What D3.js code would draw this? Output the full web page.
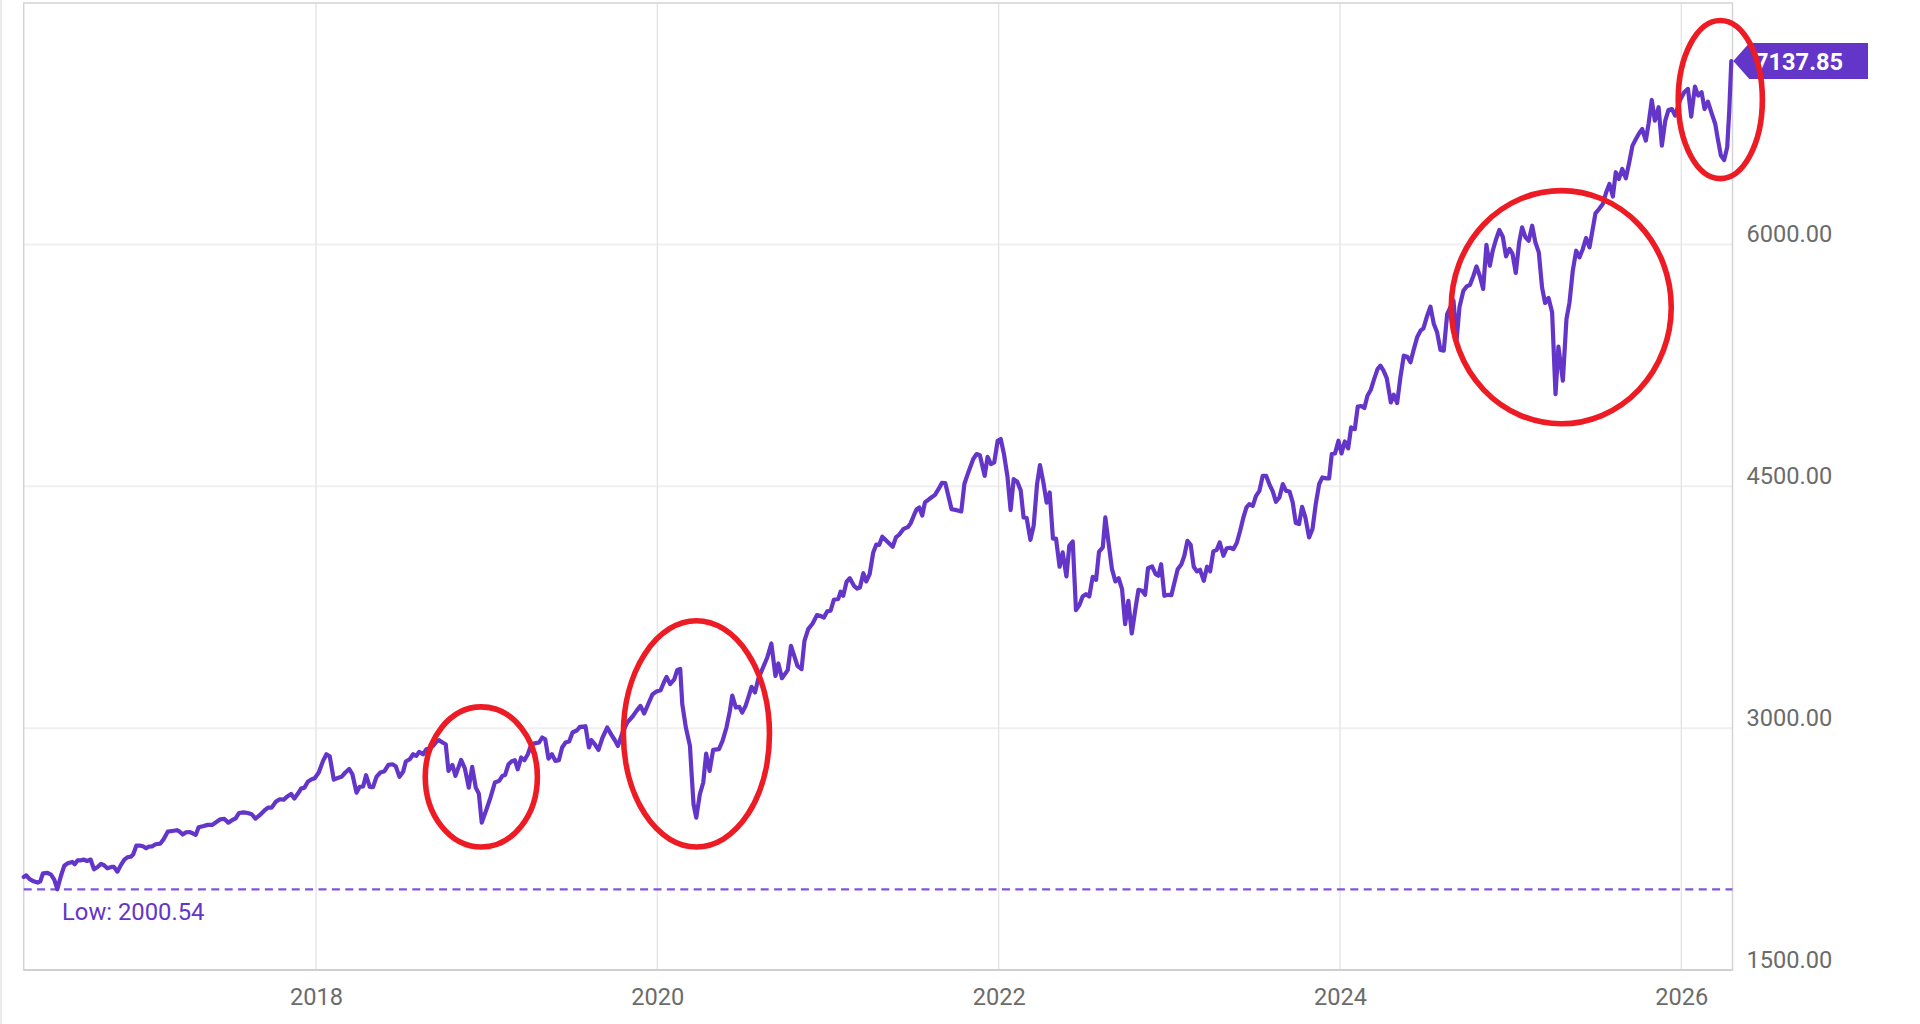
<!DOCTYPE html>
<html>
<head>
<meta charset="utf-8">
<script src="https://cdn.jsdelivr.net/npm/d3@7"></script>
<style>
html,body{margin:0;padding:0;background:#fff;overflow:hidden}
svg{display:block;font-family:Roboto,sans-serif}
</style>
</head>
<body>
<svg id="chart" width="1920" height="1024"></svg>
<script>
const years = [
2016.287,2016.302,2016.322,2016.345,2016.369,2016.384,2016.400,2016.427,2016.447,2016.466,
2016.484,2016.505,2016.525,2016.545,2016.572,2016.586,2016.603,2016.623,2016.638,2016.658,
2016.679,2016.699,2016.720,2016.740,2016.758,2016.777,2016.801,2016.816,2016.836,2016.857,
2016.877,2016.894,2016.916,2016.929,2016.947,2016.971,2016.986,2017.004,2017.019,2017.039,
2017.060,2017.088,2017.107,2017.131,2017.156,2017.185,2017.201,2017.219,2017.238,2017.258,
2017.277,2017.295,2017.312,2017.342,2017.365,2017.391,2017.416,2017.439,2017.463,2017.486,
2017.508,2017.529,2017.549,2017.576,2017.600,2017.623,2017.645,2017.670,2017.699,2017.719,
2017.740,2017.764,2017.787,2017.811,2017.834,2017.854,2017.873,2017.895,2017.912,2017.932,
2017.953,2017.975,2017.992,2018.016,2018.041,2018.061,2018.080,2018.104,2018.123,2018.149,
2018.172,2018.194,2018.213,2018.237,2018.256,2018.276,2018.293,2018.315,2018.334,2018.354,
2018.377,2018.401,2018.424,2018.448,2018.467,2018.489,2018.510,2018.526,2018.549,2018.569,
2018.588,2018.604,2018.627,2018.647,2018.667,2018.686,2018.706,2018.721,2018.741,2018.760,
2018.776,2018.799,2018.817,2018.850,2018.872,2018.895,2018.915,2018.936,2018.954,2018.971,
2018.999,2019.022,2019.048,2019.073,2019.092,2019.108,2019.128,2019.147,2019.165,2019.182,
2019.202,2019.221,2019.241,2019.262,2019.288,2019.307,2019.325,2019.343,2019.362,2019.382,
2019.403,2019.423,2019.442,2019.462,2019.483,2019.503,2019.530,2019.546,2019.579,2019.599,
2019.614,2019.634,2019.655,2019.679,2019.706,2019.731,2019.751,2019.769,2019.796,2019.823,
2019.855,2019.878,2019.901,2019.923,2019.946,2019.972,2019.995,2020.019,2020.038,2020.054,
2020.075,2020.099,2020.116,2020.134,2020.146,2020.167,2020.191,2020.202,2020.212,2020.228,
2020.249,2020.269,2020.286,2020.306,2020.327,2020.361,2020.382,2020.405,2020.425,2020.439,
2020.460,2020.480,2020.497,2020.517,2020.536,2020.552,2020.572,2020.591,2020.644,2020.668,
2020.692,2020.709,2020.730,2020.764,2020.783,2020.821,2020.845,2020.862,2020.884,2020.910,
2020.935,2020.958,2020.976,2020.995,2021.015,2021.034,2021.060,2021.074,2021.089,2021.109,
2021.128,2021.152,2021.171,2021.187,2021.207,2021.224,2021.244,2021.265,2021.283,2021.300,
2021.318,2021.353,2021.379,2021.398,2021.418,2021.441,2021.470,2021.484,2021.506,2021.519,
2021.535,2021.552,2021.568,2021.593,2021.627,2021.650,2021.668,2021.687,2021.705,2021.724,
2021.754,2021.781,2021.799,2021.822,2021.851,2021.871,2021.890,2021.918,2021.935,2021.955,
2021.974,2021.994,2022.012,2022.031,2022.051,2022.070,2022.088,2022.109,2022.129,2022.146,
2022.164,2022.186,2022.205,2022.225,2022.242,2022.262,2022.281,2022.299,2022.318,2022.336,
2022.357,2022.375,2022.397,2022.414,2022.434,2022.453,2022.473,2022.492,2022.512,2022.531,
2022.551,2022.571,2022.588,2022.610,2022.625,2022.645,2022.664,2022.684,2022.703,2022.723,
2022.741,2022.760,2022.780,2022.801,2022.819,2022.840,2022.858,2022.875,2022.899,2022.920,
2022.936,2022.952,2022.971,2022.993,2023.012,2023.030,2023.049,2023.071,2023.088,2023.106,
2023.125,2023.143,2023.162,2023.180,2023.202,2023.221,2023.239,2023.258,2023.278,2023.295,
2023.317,2023.336,2023.356,2023.375,2023.395,2023.415,2023.434,2023.452,2023.469,2023.489,
2023.508,2023.528,2023.547,2023.567,2023.586,2023.606,2023.625,2023.645,2023.665,2023.684,
2023.704,2023.723,2023.741,2023.760,2023.778,2023.797,2023.819,2023.839,2023.858,2023.878,
2023.897,2023.919,2023.936,2023.952,2023.971,2023.991,2024.009,2024.028,2024.048,2024.065,
2024.087,2024.104,2024.124,2024.143,2024.161,2024.181,2024.200,2024.220,2024.237,2024.255,
2024.274,2024.298,2024.315,2024.335,2024.354,2024.374,2024.394,2024.413,2024.433,2024.452,
2024.472,2024.489,2024.511,2024.530,2024.550,2024.569,2024.589,2024.608,2024.628,2024.665,
2024.684,2024.700,2024.723,2024.743,2024.762,2024.782,2024.800,2024.819,2024.839,2024.858,
2024.878,2024.895,2024.915,2024.934,2024.954,2024.973,2024.993,2025.011,2025.030,2025.050,
2025.067,2025.087,2025.106,2025.126,2025.145,2025.165,2025.184,2025.202,2025.222,2025.243,
2025.263,2025.280,2025.306,2025.327,2025.345,2025.364,2025.384,2025.403,2025.423,2025.442,
2025.462,2025.481,2025.497,2025.518,2025.540,2025.560,2025.579,2025.599,2025.616,2025.634,
2025.654,2025.675,2025.695,2025.714,2025.734,2025.753,2025.771,2025.792,2025.808,2025.827,
2025.845,2025.867,2025.886,2025.906,2025.925,2025.945,2025.964,2025.993,2026.017,2026.039,
2026.058,2026.080,2026.099,2026.119,2026.136,2026.156,2026.179,2026.199,2026.214,2026.232,
2026.251,2026.269,2026.281,2026.293
];
const closes = [
2077,2087,2063,2050,2042,2050,2100,2102,2092,2061,
2001,2083,2147,2162,2170,2156,2180,2180,2185,2176,
2185,2125,2139,2158,2150,2131,2139,2139,2110,2152,
2185,2199,2203,2218,2271,2271,2267,2255,2265,2267,
2280,2284,2311,2358,2362,2367,2358,2340,2354,2356,
2348,2338,2385,2393,2400,2400,2418,2435,2437,2414,
2429,2441,2474,2478,2474,2466,2439,2460,2491,2507,
2507,2543,2559,2557,2578,2592,2563,2596,2625,2631,
2669,2683,2689,2725,2797,2838,2826,2681,2689,2698,
2725,2747,2714,2600,2636,2638,2708,2636,2634,2698,
2725,2733,2772,2776,2764,2698,2729,2793,2807,2838,
2828,2853,2838,2869,2876,2890,2917,2925,2911,2900,
2735,2772,2704,2803,2751,2631,2760,2631,2594,2414,
2497,2569,2663,2673,2704,2710,2776,2795,2801,2745,
2818,2801,2838,2900,2907,2911,2942,2931,2811,2838,
2797,2801,2880,2911,2917,2973,2987,3008,3012,2880,
2925,2900,2865,2942,3004,2958,2925,2890,2973,3035,
3072,3107,3138,3091,3148,3211,3227,3235,3283,3318,
3273,3302,3359,3368,3149,3004,2890,2694,2528,2445,
2590,2663,2842,2735,2865,2870,2921,3004,3107,3202,
3128,3132,3097,3138,3200,3256,3221,3304,3438,3525,
3324,3401,3310,3360,3510,3386,3366,3541,3614,3649,
3701,3695,3686,3724,3728,3796,3802,3846,3821,3908,
3930,3883,3866,3872,3961,3910,3955,4090,4139,4137,
4187,4152,4125,4183,4201,4234,4249,4270,4327,4356,
4369,4319,4400,4421,4447,4487,4522,4520,4441,4358,
4352,4344,4514,4586,4669,4700,4693,4565,4683,4638,
4648,4782,4793,4700,4565,4352,4545,4528,4476,4307,
4303,4168,4255,4514,4631,4524,4398,4462,4176,4176,
4001,4090,3941,4131,4158,3732,3763,3817,3831,3817,
3939,3920,4094,4121,4307,4141,3986,3910,3930,3862,
3645,3790,3587,3738,3858,3852,3827,3992,4003,3955,
3945,4017,3821,3827,3825,3903,3986,4017,4069,4162,
4137,4001,3972,3982,3914,4001,3972,4096,4106,4152,
4069,4116,4119,4110,4148,4224,4307,4369,4390,4379,
4441,4472,4565,4565,4514,4468,4404,4431,4514,4472,
4468,4400,4272,4266,4373,4307,4183,4235,4390,4514,
4555,4549,4549,4700,4704,4783,4704,4778,4735,4865,
4855,4994,4998,4985,5062,5099,5165,5227,5248,5217,
5171,5020,5068,5016,5176,5310,5304,5269,5351,5424,
5465,5480,5558,5614,5506,5455,5345,5341,5568,5651,
5413,5610,5713,5740,5750,5806,5864,5806,5724,5997,
5868,5961,6034,6090,6048,5926,5972,5941,5823,6013,
6106,6044,6023,6116,6013,5951,5734,5637,5668,5579,
5072,5366,5155,5537,5641,5837,5961,5920,5972,6040,
5982,6096,6193,6220,6251,6324,6375,6297,6448,6406,
6468,6410,6510,6613,6654,6690,6716,6644,6747,6896,
6768,6851,6613,6768,6834,6840,6799,6896,6944,6965,
6793,6979,6923,6944,6840,6886,6810,6747,6654,6551,
6524,6603,6830,7137.85
];
const xTickYears = [2018, 2020, 2022, 2024, 2026];
const yTickValues = [1500, 3000, 4500, 6000];
const lowValue = 2000.54;
const lastValue = 7137.85;
const lowLabel = "Low: 2000.54";
// circled windows, each as [first year, last year, highest value, lowest value]
const ringYearFrom = [2018.640, 2019.801, 2024.652, 2025.982];
const ringYearTo   = [2019.297, 2020.657, 2025.941, 2026.475];
const ringHigh     = [3132, 3666, 6334, 7389];
const ringLow      = [2263, 2263, 4888, 6408];

const PURPLE = "#6435c9", GREY = "#6b6b6b";
const plot = {left: 23.7, right: 1732.5, top: 3, bottom: 970};
const svg = d3.select("#chart");
const x = d3.scaleLinear().domain([2016.287, 2026.30]).range([plot.left, plot.right]);
const y = d3.scaleLinear().domain([1500, 7500]).range([plot.bottom, 2.6]);

// horizontal grid + right axis
const gy = svg.append("g").attr("transform", `translate(${plot.right},0)`)
  .call(d3.axisRight(y).tickValues(yTickValues).tickFormat(d3.format(".2f")).tickSize(0).tickPadding(14));
gy.select(".domain").remove();
gy.selectAll("text").attr("dy", "-0.12em").attr("fill", GREY).style("font-size", "23.6px").style("font-family", "Roboto,sans-serif");
svg.append("g").selectAll("line").data(yTickValues.slice(1)).join("line")
  .attr("x1", plot.left).attr("x2", plot.right)
  .attr("y1", d => y(d)).attr("y2", d => y(d))
  .attr("stroke", "#f0f0f0").attr("stroke-width", 2);

// vertical grid + bottom axis
const gx = svg.append("g").attr("transform", `translate(0,${plot.bottom})`)
  .call(d3.axisBottom(x).tickValues(xTickYears).tickFormat(d3.format("d")).tickSize(0).tickPadding(18.5));
gx.select(".domain").remove();
gx.selectAll("text").attr("fill", GREY).style("font-size", "23.6px").style("font-family", "Roboto,sans-serif");
svg.append("g").selectAll("line").data(xTickYears).join("line")
  .attr("x1", d => x(d)).attr("x2", d => x(d))
  .attr("y1", plot.top).attr("y2", plot.bottom)
  .attr("stroke", "#e6e6e6").attr("stroke-width", 1.5);

// plot frame
svg.append("rect").attr("x", plot.left).attr("y", plot.top)
  .attr("width", plot.right - plot.left).attr("height", plot.bottom - plot.top)
  .attr("fill", "none").attr("stroke", "#d4d4d4").attr("stroke-width", 1.5);
svg.append("line").attr("x1", plot.left).attr("x2", plot.right).attr("y1", plot.bottom).attr("y2", plot.bottom)
  .attr("stroke", "#d0d0d0").attr("stroke-width", 2);
svg.append("line").attr("x1", 1).attr("x2", 1).attr("y1", 0).attr("y2", 1024)
  .attr("stroke", "#e4e4e4").attr("stroke-width", 1.5);

// low line
svg.append("line").attr("x1", plot.left).attr("x2", plot.right)
  .attr("y1", y(lowValue)).attr("y2", y(lowValue))
  .attr("stroke", "#7f56d9").attr("stroke-width", 2.3).attr("stroke-dasharray", "8,5.4");
svg.append("text").attr("x", 62).attr("y", y(lowValue) + 31)
  .attr("fill", PURPLE).style("font-size", "23.8px").text(lowLabel);

// series
const line = d3.line().x(d => x(d[0])).y(d => y(d[1]));
svg.append("path").datum(d3.zip(years, closes))
  .attr("d", line).attr("fill", "none").attr("stroke", PURPLE)
  .attr("stroke-width", 4.2).attr("stroke-linejoin", "round").attr("stroke-linecap", "round");

// last value tag
const tip = [x(years[years.length - 1]) + 2, y(lastValue)];
svg.append("path")
  .attr("d", d3.line()([[tip[0], tip[1]], [tip[0] + 16, tip[1] - 18], [1868, tip[1] - 18], [1868, tip[1] + 18], [tip[0] + 16, tip[1] + 18]]) + "Z")
  .attr("fill", PURPLE);
svg.append("text").attr("x", 1755).attr("y", tip[1] + 9)
  .attr("fill", "#fff").style("font-size", "23.6px").style("font-weight", 700)
  .text(d3.format(".2f")(lastValue));

// circled regions
svg.append("g").selectAll("ellipse").data(d3.range(ringHigh.length)).join("ellipse")
  .attr("cx", i => (x(ringYearFrom[i]) + x(ringYearTo[i])) / 2)
  .attr("cy", i => (y(ringHigh[i]) + y(ringLow[i])) / 2)
  .attr("rx", i => (x(ringYearTo[i]) - x(ringYearFrom[i])) / 2)
  .attr("ry", i => (y(ringLow[i]) - y(ringHigh[i])) / 2)
  .attr("fill", "none").attr("stroke", "#ed1c24").attr("stroke-width", 5.6);
</script>
</body>
</html>
